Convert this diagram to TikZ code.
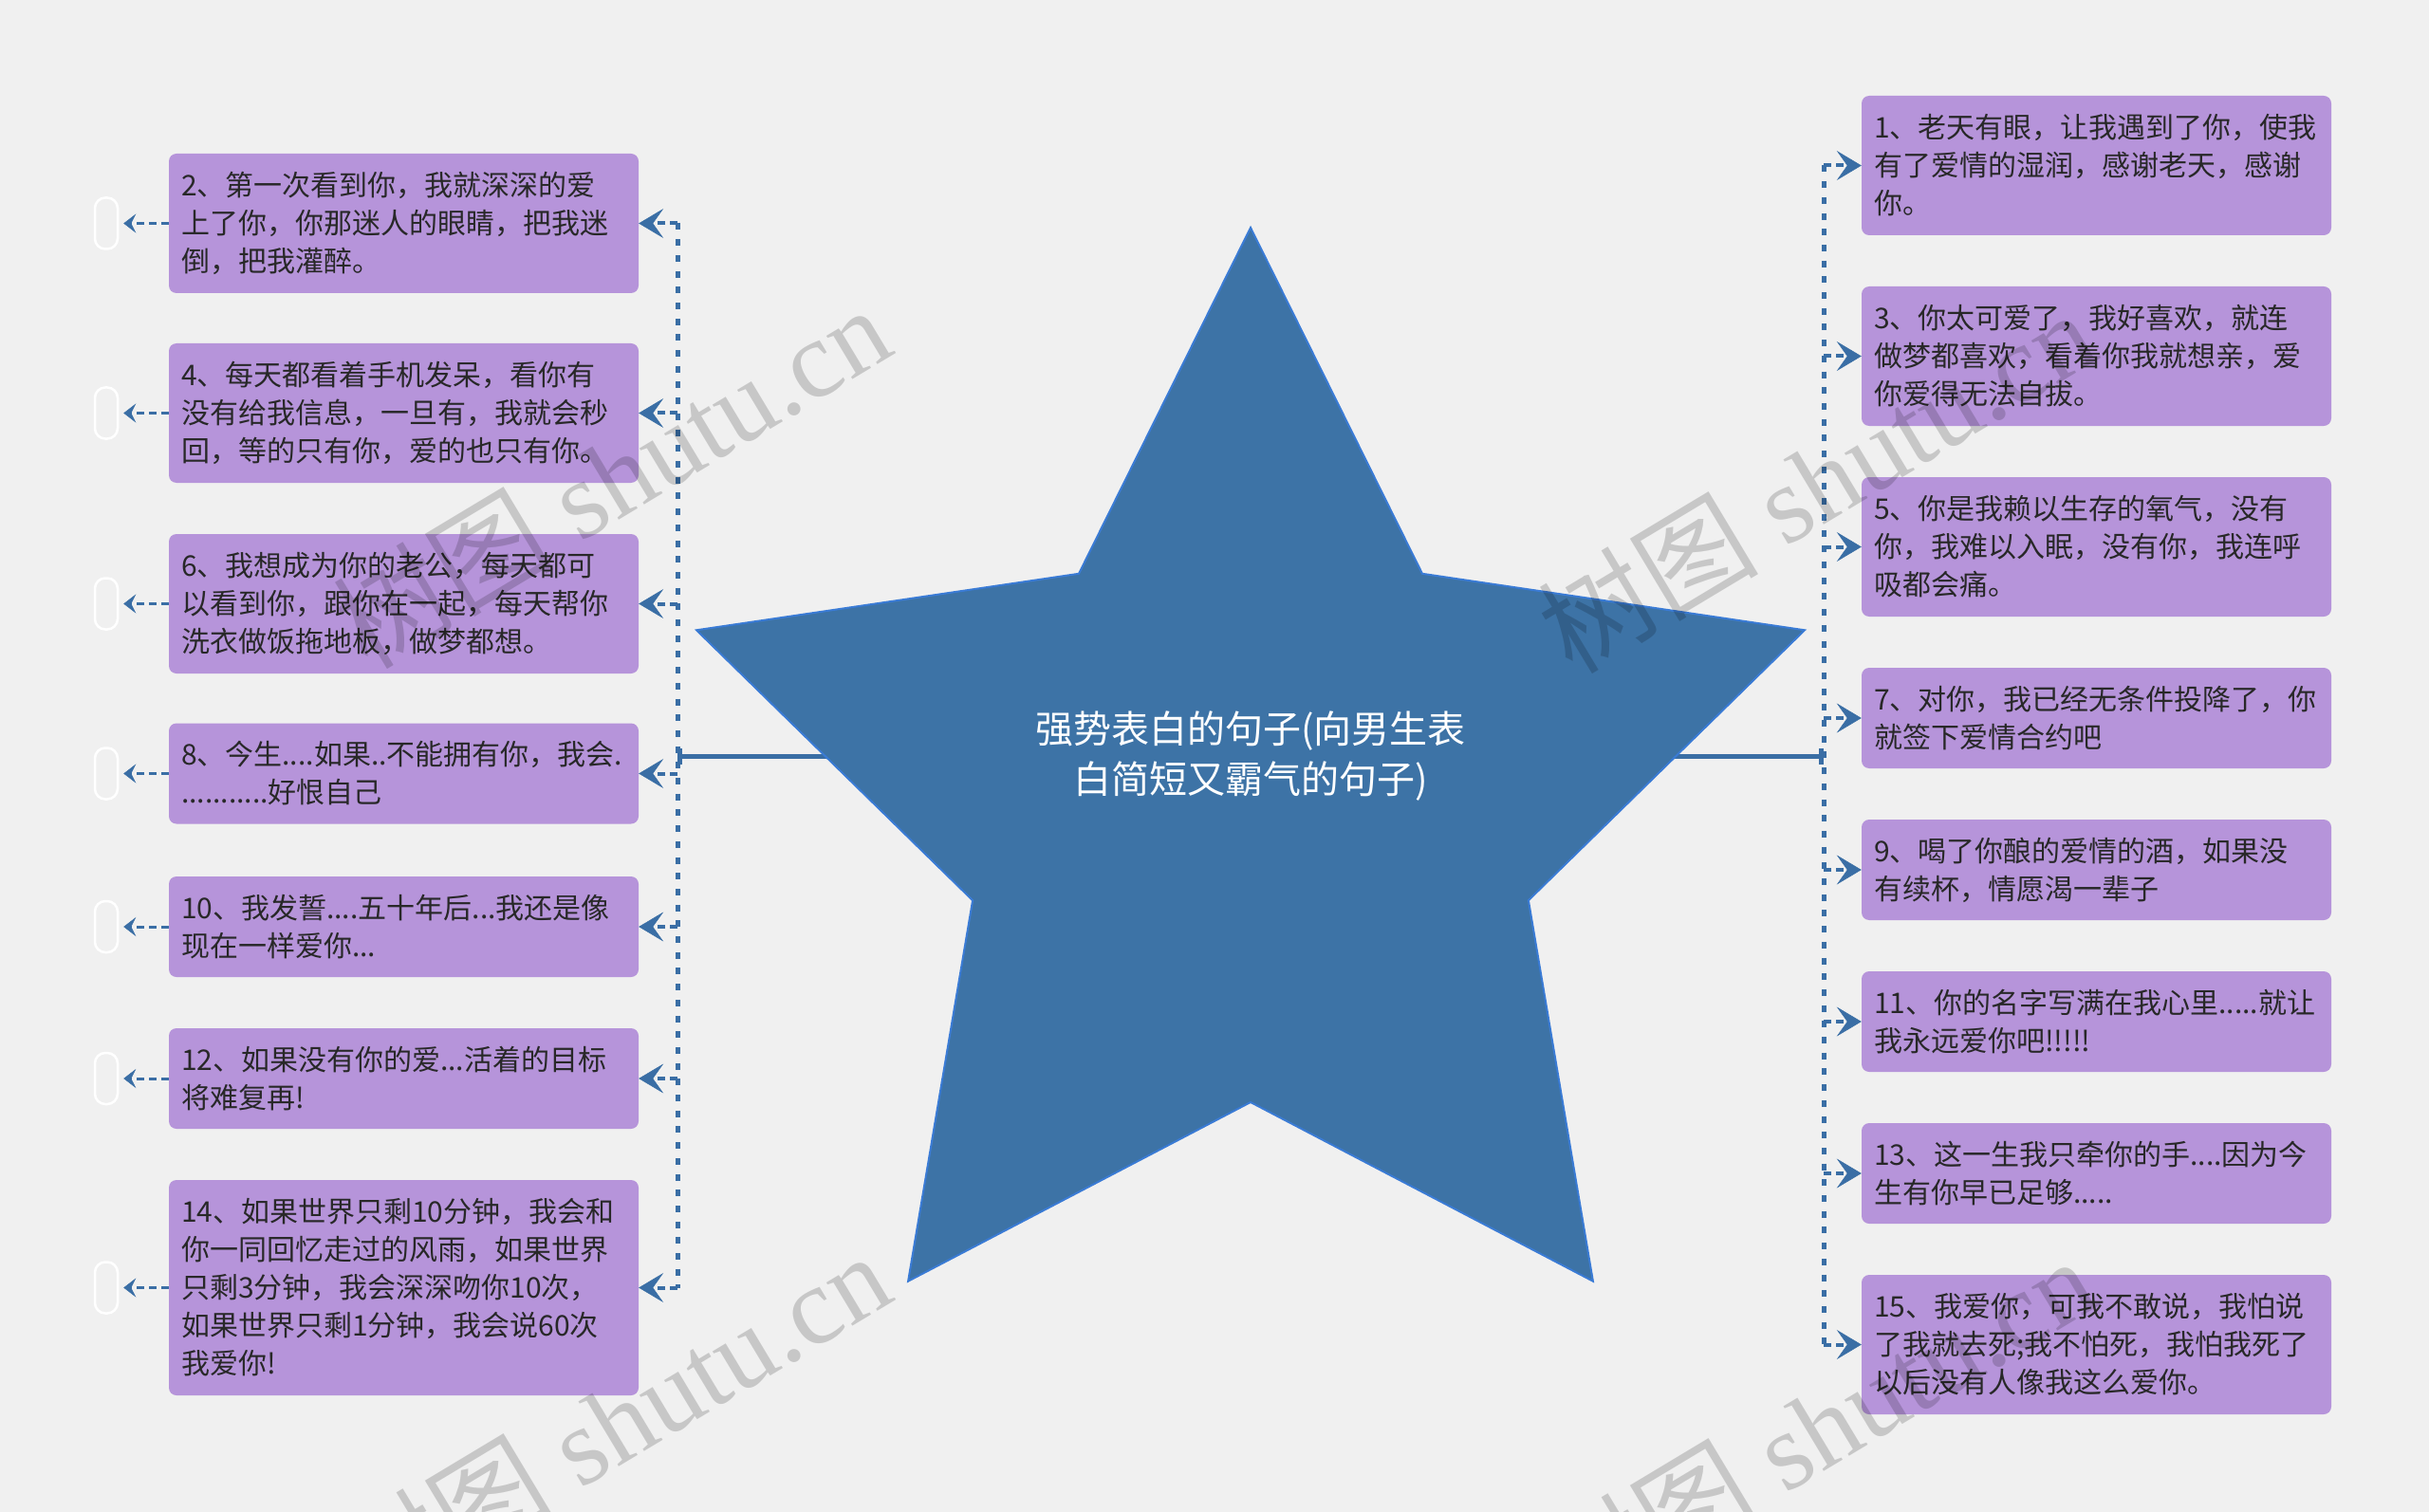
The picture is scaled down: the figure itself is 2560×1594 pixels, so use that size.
\documentclass[tikz,border=0pt]{standalone}
\usepackage{fontspec}
\setmainfont{Liberation Serif}
\newfontfamily\cjk{Noto Sans CJK SC}
\newfontfamily\wmserif{Liberation Serif}
\usetikzlibrary{arrows.meta}
\definecolor{bg}{RGB}{240,240,240}
\definecolor{leafc}{RGB}{182,148,218}
\definecolor{txt}{RGB}{40,40,40}
\definecolor{starfill}{RGB}{61,115,166}
\definecolor{staredge}{RGB}{58,123,213}
\definecolor{conn}{RGB}{58,110,165}
\tikzset{
  leaf/.style={rectangle, rounded corners=8pt, fill=leafc, text=txt,
    font=\cjk\fontsize{30}{40}\selectfont, text width=469pt, align=left,
    inner xsep=13pt, inner ysep=0pt},
  hthree/.style={minimum height=147pt},
  htwo/.style={minimum height=106pt},
  hfive/.style={minimum height=227pt},
  holder/.style={rectangle, rounded corners=11pt, draw=white, line width=2.5pt,
    minimum width=24pt, minimum height=54pt, inner sep=0pt},
  vline/.style={draw=conn, line width=5pt, dash pattern=on 7pt off 9.7pt},
  branch/.style={draw=conn, line width=4pt, dash pattern=on 8pt off 5pt,
    -{Stealth[length=26pt,width=31pt,inset=11pt,line width=0.5pt]}},
  obranch/.style={draw=conn, line width=3pt, dash pattern=on 8pt off 5pt,
    shorten >=5pt, -{Stealth[length=13pt,width=20pt,inset=5pt,line width=0.5pt]}},
  mainline/.style={draw=conn, line width=5pt, -{Bar[width=17pt,line width=5pt]}},
  title/.style={text=white, font=\cjk\fontsize{40}{53}\selectfont, align=center, inner sep=0pt},
  wmark/.style={text=black, text opacity=0.17, font=\fontsize{116}{116}\selectfont,
    inner sep=0pt, rotate=31, anchor=base east},
}
\begin{document}
\begin{tikzpicture}[x=1pt,y=-1pt]
\fill[bg] (0,0) rectangle (2560,1594);
\useasboundingbox (0,0) rectangle (2560,1594);

% hubs
\coordinate (L) at (714,797);
\coordinate (R) at (1922,797);
\coordinate (sc) at (1318,797);

% main connectors (behind star)
\draw[mainline] (sc) -- (L);
\draw[mainline] (sc) -- (R);

% star
\filldraw[fill=starfill, draw=staredge, line width=2pt, line join=miter]
  (1318,240) -- (1499.0,604.8) -- (1902.0,664.3) -- (1610.9,949.2) -- (1678.9,1350.7)
  -- (1318,1162) -- (957.1,1350.7) -- (1025.1,949.2) -- (734.0,664.3) -- (1137.0,604.8) -- cycle;
\node[title] (t) at (sc) {强势表白的句子(向男生表\\白简短又霸气的句子)};

% left leaves
\node[leaf,hthree] (n2)  at (425.5,235.5) {2、第一次看到你，我就深深的爱\\上了你，你那迷人的眼睛，把我迷\\倒，把我灌醉。};
\node[leaf,hthree] (n4)  at (425.5,435.5) {4、每天都看着手机发呆，看你有\\没有给我信息，一旦有，我就会秒\\回，等的只有你，爱的也只有你。};
\node[leaf,hthree] (n6)  at (425.5,636.5) {6、我想成为你的老公，每天都可\\以看到你，跟你在一起，每天帮你\\洗衣做饭拖地板，做梦都想。};
\node[leaf,htwo]   (n8)  at (425.5,815.5) {8、今生....如果..不能拥有你，我会.\\...........好恨自己};
\node[leaf,htwo]   (n10) at (425.5,977) {10、我发誓....五十年后...我还是像\\现在一样爱你...};
\node[leaf,htwo]   (n12) at (425.5,1137) {12、如果没有你的爱...活着的目标\\将难复再!};
\node[leaf,hfive]  (n14) at (425.5,1357.5) {14、如果世界只剩10分钟，我会和\\你一同回忆走过的风雨，如果世界\\只剩3分钟，我会深深吻你10次，\\如果世界只剩1分钟，我会说60次\\我爱你!};

% right leaves
\node[leaf,hthree] (n1)  at (2209.5,174.5) {1、老天有眼，让我遇到了你，使我\\有了爱情的湿润，感谢老天，感谢\\你。};
\node[leaf,hthree] (n3)  at (2209.5,375.5) {3、你太可爱了，我好喜欢，就连\\做梦都喜欢，看着你我就想亲，爱\\你爱得无法自拔。};
\node[leaf,hthree] (n5)  at (2209.5,576.5) {5、你是我赖以生存的氧气，没有\\你，我难以入眠，没有你，我连呼\\吸都会痛。};
\node[leaf,htwo]   (n7)  at (2209.5,757) {7、对你，我已经无条件投降了，你\\就签下爱情合约吧};
\node[leaf,htwo]   (n9)  at (2209.5,917) {9、喝了你酿的爱情的酒，如果没\\有续杯，情愿渴一辈子};
\node[leaf,htwo]   (n11) at (2209.5,1077) {11、你的名字写满在我心里.....就让\\我永远爱你吧!!!!!};
\node[leaf,htwo]   (n13) at (2209.5,1237) {13、这一生我只牵你的手....因为今\\生有你早已足够.....};
\node[leaf,hthree] (n15) at (2209.5,1417.5) {15、我爱你，可我不敢说，我怕说\\了我就去死;我不怕死，我怕我死了\\以后没有人像我这么爱你。};

% vertical dotted lines
\draw[vline] (L |- n2) -- (L |- n14);
\draw[vline] (R |- n1) -- (R |- n15);

% branches
\foreach \n in {n2,n4,n6,n8,n10,n12,n14}
  \draw[branch] (L |- \n.east) -- (\n.east);
\foreach \n in {n1,n3,n5,n7,n9,n11,n13,n15}
  \draw[branch] (R |- \n.west) -- (\n.west);

% empty placeholders at the far left
\foreach \n in {n2,n4,n6,n8,n10,n12,n14}{
  \node[holder] (p\n) at (112,0 |- \n.west) {};
  \draw[obranch] (\n.west) -- (p\n.east);
}

% watermarks
\node[wmark] (w1) at (946,372)  {{\cjk 树图} shutu.cn};
\node[wmark] (w2) at (2216,377) {{\cjk 树图} shutu.cn};
\node[wmark] (w3) at (946,1370) {{\cjk 树图} shutu.cn};
\node[wmark] (w4) at (2216,1375) {{\cjk 树图} shutu.cn};
\end{tikzpicture}
\end{document}
